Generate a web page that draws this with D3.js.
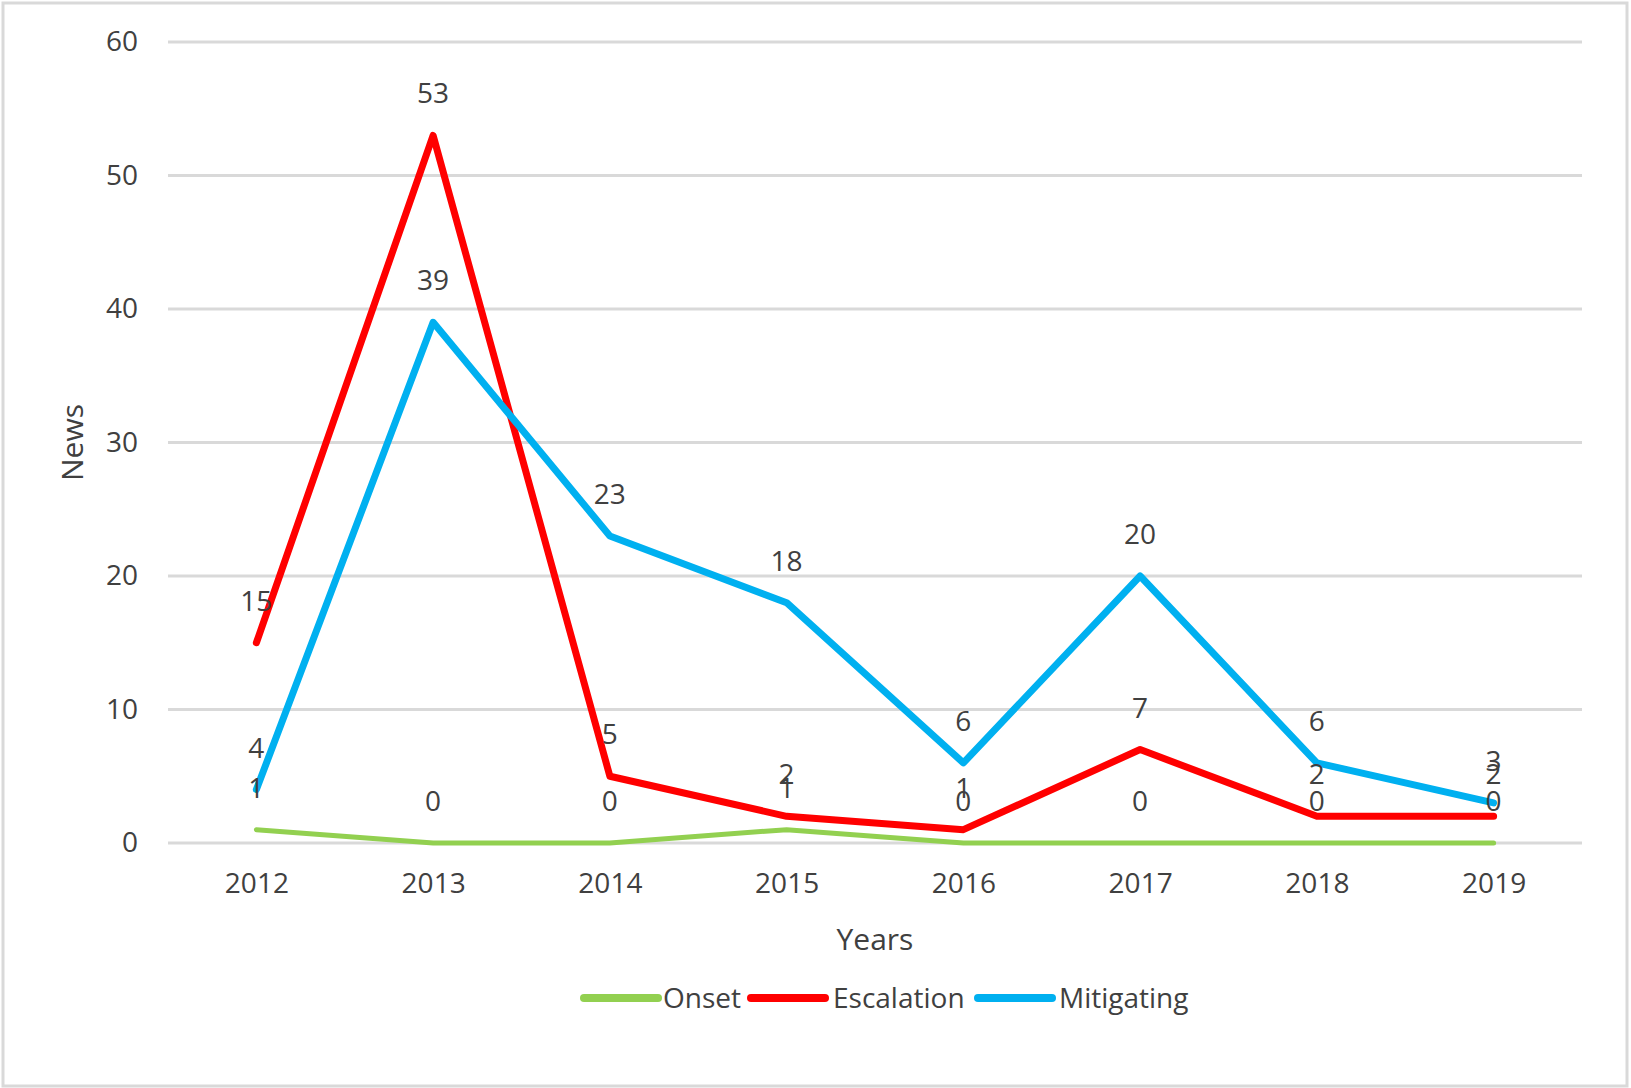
<!DOCTYPE html>
<html>
<head>
<meta charset="utf-8">
<script src="https://d3js.org/d3.v7.min.js"></script>
<style>
  * { margin:0; padding:0; }
  body { background:#fff; overflow:hidden; font-family:"Open Sans", sans-serif; }
  svg { display:block; }
</style>
</head>
<body>
<svg id="chart" width="1631" height="1088"></svg>
<script>
// ── Data ─────────────────────────────────────────────────────────────────────
var years      = ["2012", "2013", "2014", "2015", "2016", "2017", "2018", "2019"];
var onset      = [1, 0, 0, 1, 0, 0, 0, 0];
var escalation = [15, 53, 5, 2, 1, 7, 2, 2];
var mitigating = [4, 39, 23, 18, 6, 20, 6, 3];
var yTicks     = [0, 10, 20, 30, 40, 50, 60];

var series = [
  { name: "Onset",      values: onset,      color: "#92d050", width: 5 },
  { name: "Escalation", values: escalation, color: "#ff0000", width: 7 },
  { name: "Mitigating", values: mitigating, color: "#00b0f0", width: 7 }
];

var W = 1631, H = 1088;
var plot = { left: 168, right: 1582, top: 42, bottom: 843 };
var textColor = "#404040";

var svg = d3.select("#chart");

// outer frame
svg.append("rect")
  .attr("x", 3).attr("y", 3)
  .attr("width", W - 7).attr("height", H - 5)
  .attr("fill", "#fff").attr("stroke", "#d9d9d9").attr("stroke-width", 3);

var x = d3.scalePoint().domain(years)
  .range([plot.left, plot.right]).padding(0.5);
var y = d3.scaleLinear().domain([0, 60]).range([plot.bottom, plot.top]);

// gridlines
svg.append("g").selectAll("line")
  .data(yTicks).join("line")
  .attr("x1", plot.left).attr("x2", plot.right)
  .attr("y1", function(d) { return y(d); })
  .attr("y2", function(d) { return y(d); })
  .attr("stroke", "#d9d9d9").attr("stroke-width", 3);

// y axis labels
var yAxis = svg.append("g")
  .attr("transform", "translate(" + (plot.left - 30) + ",0)")
  .call(d3.axisLeft(y).tickValues(yTicks).tickSize(0).tickPadding(0));
yAxis.select(".domain").remove();
yAxis.selectAll("text")
  .attr("font-family", "'Open Sans', sans-serif")
  .attr("font-size", 28).attr("fill", textColor);

// x axis labels
var xAxis = svg.append("g")
  .attr("transform", "translate(0," + plot.bottom + ")")
  .call(d3.axisBottom(x).tickSize(0).tickPadding(30));
xAxis.select(".domain").remove();
xAxis.selectAll("text")
  .attr("font-family", "'Open Sans', sans-serif")
  .attr("font-size", 28).attr("fill", textColor);

// axis titles
svg.append("text")
  .attr("x", (plot.left + plot.right) / 2).attr("y", 950)
  .attr("text-anchor", "middle")
  .attr("font-size", 30).attr("fill", textColor)
  .text("Years");

svg.append("text")
  .attr("transform", "translate(83," + ((plot.top + plot.bottom) / 2) + ") rotate(-90)")
  .attr("text-anchor", "middle")
  .attr("font-size", 30).attr("fill", textColor)
  .text("News");

// lines
var line = d3.line()
  .x(function(d, i) { return x(years[i]); })
  .y(function(d) { return y(d); });

svg.append("g").selectAll("path")
  .data(series).join("path")
  .attr("d", function(s) { return line(s.values); })
  .attr("fill", "none")
  .attr("stroke", function(s) { return s.color; })
  .attr("stroke-width", function(s) { return s.width; })
  .attr("stroke-linejoin", "round")
  .attr("stroke-linecap", "round");

// data labels
series.forEach(function(s) {
  svg.append("g").selectAll("text")
    .data(s.values).join("text")
    .attr("x", function(d, i) { return x(years[i]); })
    .attr("y", function(d) { return y(d) - 32; })
    .attr("text-anchor", "middle")
    .attr("font-size", 28).attr("fill", textColor)
    .text(function(d) { return d; });
});

// legend
var legendItems = [
  { x: 584, textX: 663 },
  { x: 751, textX: 833 },
  { x: 978, textX: 1059 }
];
var legendY = 998;
var lg = svg.append("g");
series.forEach(function(s, i) {
  var it = legendItems[i];
  lg.append("line")
    .attr("x1", it.x).attr("x2", it.x + 74)
    .attr("y1", legendY).attr("y2", legendY)
    .attr("stroke", s.color).attr("stroke-width", 8)
    .attr("stroke-linecap", "round");
  lg.append("text")
    .attr("x", it.textX).attr("y", legendY + 10)
    .attr("font-size", 28).attr("fill", textColor)
    .text(s.name);
});
</script>
</body>
</html>
